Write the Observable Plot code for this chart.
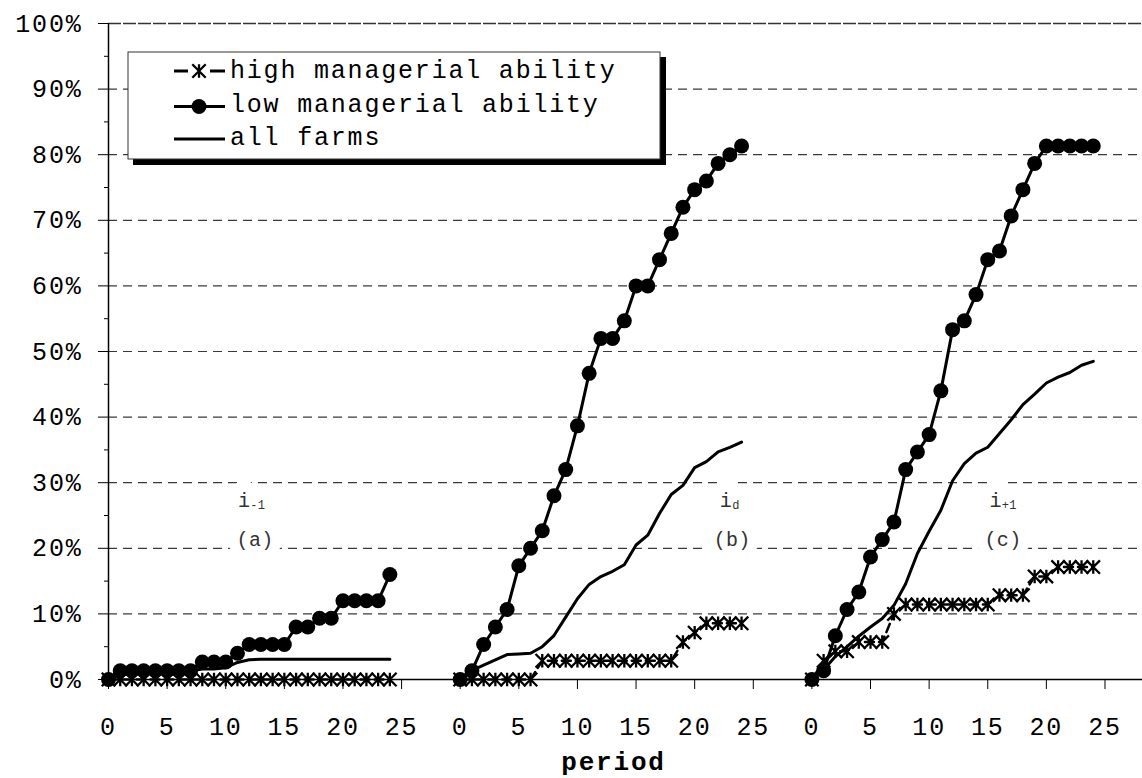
<!DOCTYPE html>
<html><head><meta charset="utf-8">
<script src="https://cdn.jsdelivr.net/npm/d3@7"></script>
<script src="https://cdn.jsdelivr.net/npm/@observablehq/plot@0.6"></script>
<style>
body{margin:0;background:#fff;}
#chart svg{display:block;}
</style></head><body><div id="chart"></div>
<script>
// ---- data (percent of farms) ----
const periods = d3.range(0, 25);
const panelNames = ["a", "b", "c"];
const panelOffsets = [0, 30, 60];

const lowA  = [0,1.33,1.33,1.33,1.33,1.33,1.33,1.33,2.67,2.67,2.67,4,5.33,5.33,5.33,5.33,8,8,9.33,9.33,12,12,12,12,16];
const highA = [0,0,0,0,0,0,0,0,0,0,0,0,0,0,0,0,0,0,0,0,0,0,0,0,0];
const allA  = [0,0.7,1,1,1,1,1,1.3,1.6,1.6,1.8,2.6,3,3.1,3.1,3.1,3.1,3.1,3.1,3.1,3.1,3.1,3.1,3.1,3.1];

const lowB  = [0,1.33,5.33,8,10.67,17.33,20,22.67,28,32,38.67,46.67,52,52,54.67,60,60,64,68,72,74.67,76,78.67,80,81.33];
const highB = [0,0,0,0,0,0,0,2.86,2.86,2.86,2.86,2.86,2.86,2.86,2.86,2.86,2.86,2.86,2.86,5.71,7.14,8.57,8.57,8.57,8.57];
const allB  = [0,1.4,2.2,3,3.8,3.9,4,5,6.7,9.5,12.3,14.5,15.7,16.5,17.5,20.5,22,25.3,28.2,29.6,32.3,33.2,34.7,35.4,36.2];

const lowC  = [0,1.33,6.67,10.67,13.33,18.67,21.33,24,32,34.67,37.33,44,53.33,54.67,58.67,64,65.33,70.67,74.67,78.67,81.33,81.33,81.33,81.33,81.33];
const highC = [0,2.86,4.29,4.29,5.71,5.71,5.71,10,11.43,11.43,11.43,11.43,11.43,11.43,11.43,11.43,12.86,12.86,12.86,15.71,15.71,17.14,17.14,17.14,17.14];
const allC  = [0,1.5,3.5,5,6.6,8,9.3,11.3,14.6,19.2,22.6,25.8,30.3,32.9,34.5,35.4,37.5,39.6,41.9,43.5,45.2,46.1,46.8,47.9,48.5];

const yTicks = d3.range(0, 101, 10);
const yMinor = d3.range(5, 100, 10);
const xTicks = d3.range(0, 90, 5);
const legendLabels = ["high managerial ability", "low managerial ability", "all farms"];

const panelSymbols = ["i", "i", "i"];
const panelSubs = ["-1", "d", "+1"];
const panelTags = ["(a)", "(b)", "(c)"];
const symbolPeriod = [12.1, 23.2, 16.2];
const tagPeriod = [12.5, 23.2, 16.3];
const symbolLevel = [27.2, 27.2, 27.2];
const tagLevel = [21.4, 21.4, 21.4];

// ---- tables ----
const seriesByPanel = [
  {low: lowA, high: highA, all: allA},
  {low: lowB, high: highB, all: allB},
  {low: lowC, high: highC, all: allC}
];
const rows = seriesByPanel.flatMap((s, p) => periods.map((t, i) => ({
  panel: panelNames[p], x: panelOffsets[p] + t, low: s.low[i], high: s.high[i], all: s.all[i]
})));
const notes = panelNames.map((n, i) => ({
  mx: panelOffsets[i] + symbolPeriod[i], my: symbolLevel[i],
  tx: panelOffsets[i] + tagPeriod[i], ty: tagLevel[i],
  main: panelSymbols[i], sub: panelSubs[i], tag: panelTags[i]
}));

const star = {
  draw(context, size) {
    const r = Math.sqrt(size / Math.PI);
    context.moveTo(0, -r); context.lineTo(0, r);
    context.moveTo(-r, -r); context.lineTo(r, r);
    context.moveTo(-r, r); context.lineTo(r, -r);
  }
};

const gridY = yTicks.filter(d => d > 0 && d < 100);
const topY = yTicks.filter(d => d === 100);

const plot = Plot.plot({
  width: 1142, height: 778,
  marginLeft: 108, marginRight: 0, marginTop: 23, marginBottom: 99,
  style: {fontFamily: "'Liberation Mono', 'DejaVu Sans Mono', monospace", fontSize: "25px", background: "white", overflow: "visible", letterSpacing: "1.8px"},
  x: {domain: [0, 88.2], label: null},
  y: {domain: [0, 100], label: null},
  marks: [
    Plot.ruleY(gridY, {stroke: "#3a3a3a", strokeWidth: 1.2, strokeDasharray: "9,6"}),
    Plot.ruleY(topY, {stroke: "#333", strokeWidth: 1.4, strokeDasharray: "13,2"}),
    // white boxes behind the panel labels
    Plot.text(notes, {x: "mx", y: "my", text: "main", textAnchor: "end", fontSize: 20, fill: "white", stroke: "white", strokeWidth: 22, strokeLinejoin: "round"}),
    Plot.text(notes, {x: "mx", y: "my", text: "sub", textAnchor: "start", dy: 4, fontSize: 12, fill: "white", stroke: "white", strokeWidth: 22, strokeLinejoin: "round"}),
    Plot.text(notes, {x: "tx", y: "ty", text: "tag", fontSize: 20, fill: "white", stroke: "white", strokeWidth: 22, strokeLinejoin: "round"}),
    Plot.text(notes, {x: "mx", y: "my", text: "main", textAnchor: "end", fontSize: 20, fill: "#333"}),
    Plot.text(notes, {x: "mx", y: "my", text: "sub", textAnchor: "start", dy: 4, fontSize: 12, fill: "#333"}),
    Plot.text(notes, {x: "tx", y: "ty", text: "tag", fontSize: 20, fill: "#333"}),
    Plot.axisY(yMinor, {tickSize: 4, tickFormat: () => "", label: null}),
    Plot.axisY(yTicks, {tickSize: 10, tickPadding: 16, tickFormat: d => d + "%", label: null}),
    Plot.axisX(xTicks, {tickSize: 10, tickPadding: 28, tickFormat: d => String(d % 30), label: null}),
    Plot.ruleX([0], {stroke: "black", strokeWidth: 1.5}),
    Plot.ruleY([0], {stroke: "black", strokeWidth: 1.5}),
    Plot.line(rows, {x: "x", y: "all", z: "panel", stroke: "black", strokeWidth: 3}),
    Plot.line(rows, {x: "x", y: "high", z: "panel", stroke: "black", strokeWidth: 2.5, strokeDasharray: "9,5"}),
    Plot.dot(rows, {x: "x", y: "high", r: 6.7, symbol: star, stroke: "black", strokeWidth: 2.3, fill: "none"}),
    Plot.line(rows, {x: "x", y: "low", z: "panel", stroke: "black", strokeWidth: 3}),
    Plot.dot(rows, {x: "x", y: "low", r: 7.5, fill: "black"}),
    Plot.text(["period"], {text: d => d, frameAnchor: "bottom", dx: -12, dy: 90, fontWeight: "bold", fontSize: 26, fill: "black"})
  ]
});

const svg = d3.select(plot);
svg.selectAll('g[font-size="20"], g[font-size="12"]').attr("letter-spacing", "0.3px");

// ---- legend (inside plot area) ----
const lg = svg.append("g").attr("class", "legend");
lg.append("rect").attr("x", 133).attr("y", 57).attr("width", 533).attr("height", 108).attr("fill", "black");
lg.append("rect").attr("x", 128).attr("y", 52).attr("width", 532).attr("height", 107).attr("fill", "white").attr("stroke", "#333").attr("stroke-width", 1);
const rowY = [71, 106.5, 139];
const baseY = [78, 112, 145];
// high: dashed with star
lg.append("path").attr("d", `M174,${rowY[0]}H188M210,${rowY[0]}H225`).attr("stroke", "black").attr("stroke-width", 3);
lg.append("path").attr("transform", `translate(199,${rowY[0]})`)
  .attr("d", d3.symbol(star, Math.PI * 6.7 * 6.7)()).attr("stroke", "black").attr("stroke-width", 2.3).attr("fill", "none");
// low: line + dot
lg.append("path").attr("d", `M174,${rowY[1]}H225`).attr("stroke", "black").attr("stroke-width", 3);
lg.append("circle").attr("cx", 199).attr("cy", rowY[1]).attr("r", 7.5).attr("fill", "black");
// all farms
lg.append("path").attr("d", `M174,${rowY[2]}H225`).attr("stroke", "black").attr("stroke-width", 3);
legendLabels.forEach((t, i) => {
  lg.append("text").attr("x", 230).attr("y", baseY[i]).attr("fill", "black")
    .attr("text-anchor", "start").attr("font-size", 25).attr("letter-spacing", "1.8px").text(t);
});

document.getElementById("chart").appendChild(plot);
</script>
</body></html>
